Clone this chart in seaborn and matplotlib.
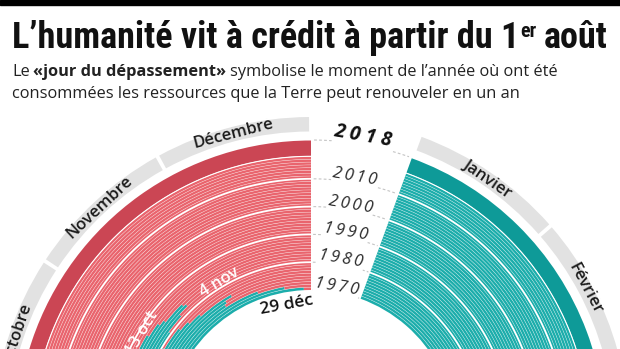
import numpy as np
import pandas as pd
import seaborn as sns
import matplotlib
matplotlib.use("Agg")
import matplotlib.pyplot as plt
from matplotlib import font_manager
from matplotlib.patches import Rectangle

# ---------------- data ----------------
years = list(range(1970, 2019))
# day of year of the overshoot day (Earth Overshoot Day)
overshoot_day = [363, 355, 344, 330, 331, 334, 320, 315, 311, 302,
                 308, 315, 319, 318, 310, 308, 303, 296, 288, 284,
                 286, 285, 287, 287, 284, 278, 277, 272, 272, 272,
                 266, 265, 262, 252, 244, 237, 232, 226, 227, 230,
                 219, 216, 215, 215, 216, 217, 217, 214, 213]
months = ["Janvier", "Février", "Mars", "Avril", "Mai", "Juin", "Juillet",
          "Août", "Septembre", "Octobre", "Novembre", "Décembre"]
month_days = [31, 28, 31, 30, 31, 30, 31, 31, 30, 31, 30, 31]
decade_years = [1970, 1980, 1990, 2000, 2010]
date_label_years = [1970, 1980, 1990]
date_label_texts = ["29 déc", "4 nov", "13 oct"]

df = pd.DataFrame({"year": years, "day": overshoot_day})

# ---------------- style ----------------
sns.set_theme(style="white")
avail = {f.name for f in font_manager.fontManager.ttflist}
COND = next((f for f in ["Liberation Sans Narrow", "Roboto Condensed", "Open Sans Condensed"] if f in avail), "Roboto")
BODY = "Open Sans" if "Open Sans" in avail else "DejaVu Sans"
plt.rcParams["font.family"] = [BODY, "DejaVu Sans"]

RED, RED_DARK = "#e9646d", "#cb4654"
TEAL, TEAL_DARK = "#1cadab", "#0e9a98"
GREY = "#e2e2e2"

W_PX, H_PX = 620, 349
fig = plt.figure(figsize=(W_PX / 100, H_PX / 100), dpi=100)
fig.patch.set_facecolor("white")

# polar axes whose centre sits below the picture
CX, CY = 311, 435
RMAX = 330
ax = fig.add_axes([(CX - RMAX) / W_PX, (H_PX - CY - RMAX) / H_PX,
                   2 * RMAX / W_PX, 2 * RMAX / H_PX], projection="polar")
ax.set_theta_zero_location("N")
ax.set_theta_direction(-1)
ax.set_ylim(0, RMAX)
ax.axis("off")

START, SPAN = 20.0, 340.0


def th(day):
    return np.deg2rad(START + SPAN * np.asarray(day, dtype=float) / 365.0)


R0, RW = 145.0, 2.78
R18_IN, R18_OUT = 279.0, 294.5
n_hist = len(years) - 1
r_in = np.array([R0 + i * RW for i in range(n_hist)] + [R18_IN])
r_h = np.array([RW] * n_hist + [R18_OUT - R18_IN])
is18 = df["year"].values == 2018

t0 = th(0)
t_end = th(df["day"].values - 1)
t_full = th(365)

teal_cols = np.where(is18, TEAL_DARK, TEAL)
red_cols = np.where(is18, RED_DARK, RED)
ax.bar(np.full(len(df), t0), r_h, width=t_end - t0, bottom=r_in,
       align="edge", color=teal_cols, linewidth=0)
ax.bar(t_end, r_h, width=t_full - t_end, bottom=r_in,
       align="edge", color=red_cols, linewidth=0)

# thin separators between rings
arc = np.linspace(t0, t_full, 400)
for i in range(1, n_hist):
    ax.plot(arc, np.full_like(arc, R0 + i * RW), color="white", lw=0.35, alpha=0.6)
ax.plot(arc, np.full_like(arc, R18_IN - 0.3), color="white", lw=0.8)
# decade lines
for y in decade_years[1:]:
    r = R0 + (y - 1970) * RW
    ax.plot(arc, np.full_like(arc, r), color="white", lw=1.3)

# month band
cum = np.concatenate([[0], np.cumsum(month_days)])
ax.bar(th(cum[:-1]) + np.deg2rad(0.35), 14.5, width=th(cum[1:]) - th(cum[:-1]) - np.deg2rad(0.7),
       bottom=303.5, align="edge", color=GREY, linewidth=0)
for m, a, b in zip(months, cum[:-1], cum[1:]):
    mid = START + SPAN * (a + b) / 2 / 365
    # only the labels that fall inside the visible picture
    x = CX + 311 * np.sin(np.deg2rad(mid))
    yy = CY - 311 * np.cos(np.deg2rad(mid))
    if not (0 <= x <= W_PX and 0 <= yy <= H_PX):
        continue
    ax.text(np.deg2rad(mid), 311, m, rotation=-mid, rotation_mode="anchor",
            ha="center", va="center", fontsize=12, color="#1b1b1b",
            fontweight="semibold")

# year labels in the gap
gap = np.deg2rad(np.linspace(0.6, 19.4, 60))
for y in decade_years:
    r = R0 + (y - 1970) * RW
    ax.plot(gap, np.full_like(gap, r), color="#c4c4c4", lw=0.8, ls=(0, (2.5, 2)))
    ax.text(np.deg2rad(9.7), r + 5.5, "\u2009".join(str(y)), rotation=-9.7,
            rotation_mode="anchor", ha="center", va="center", fontsize=12,
            fontstyle="italic", color="#2a2a2a",
            bbox=dict(boxstyle="square,pad=0.05", fc="white", ec="none"))
ax.plot(gap, np.full_like(gap, R18_OUT + 0.5), color="#c4c4c4", lw=0.8, ls=(0, (2.5, 2)))
ax.text(np.deg2rad(9.9), 303, " ".join("2018"), rotation=-9.9,
        rotation_mode="anchor", ha="center", va="center", fontsize=14,
        fontweight="bold", fontstyle="italic", color="#111111",
        bbox=dict(boxstyle="square,pad=0.05", fc="white", ec="none"))

# date labels
pos = {1970: (349.5, 132, "#111111"), 1980: (329.0, 178.5, "white"), 1990: (301.0, 197.5, "white")}
for y, txt in zip(date_label_years, date_label_texts):
    a, r, c = pos[y]
    ax.text(np.deg2rad(a), r, txt, rotation=-a, rotation_mode="anchor",
            ha="center", va="center", fontsize=12.5 if y == 1970 else 12,
            color=c, fontweight="semibold")

# top black rule
fig.patches.append(Rectangle((0, 1 - 5 / H_PX), 1, 5 / H_PX, transform=fig.transFigure,
                             color="black", zorder=10))

# ---------------- title & subtitle ----------------
renderer = fig.canvas.get_renderer()


def runs(items, x_px, base_px, **common):
    x = x_px
    for txt, props, gap_after in items:
        kw = dict(common)
        kw.update(props)
        dy = kw.pop("dy", 0)
        t = fig.text(x / W_PX, (H_PX - base_px + dy) / H_PX, txt, va="baseline", ha="left", **kw)
        bb = t.get_window_extent(renderer)
        x = bb.x1 + gap_after
    return x


TFS = 26
title_common = dict(fontsize=TFS, fontweight="bold", color="#111111", family=[COND, "DejaVu Sans"])
runs([("L’humanité vit à crédit à partir du 1", {}, 1),
      ("er", {"fontsize": TFS * 0.55, "dy": 11}, 7),
      ("août", {}, 0)], 12, 48, **title_common)

sub_common = dict(fontsize=11.8, color="#222222")
sp = 3.6
runs([("Le", {}, sp),
      ("«jour du dépassement»", {"fontweight": "bold"}, sp),
      ("symbolise le moment de l’année où ont été", {}, 0)], 12, 76, **sub_common)
runs([("consommées les ressources que la Terre peut renouveler en un an", {}, 0)], 12, 98, **sub_common)

fig.savefig("out.png", dpi=100, facecolor="white")
